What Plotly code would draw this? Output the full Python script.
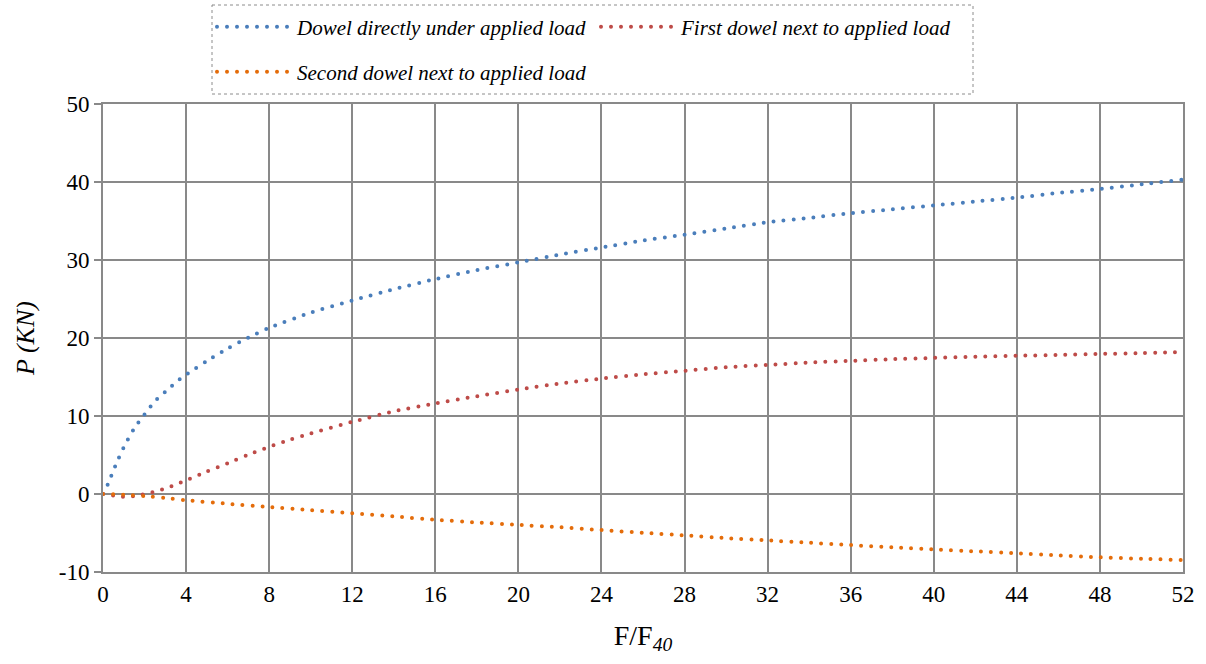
import plotly.graph_objects as go

# ---- data ----
x_blue = [0, 0.25, 0.5, 0.75, 1, 1.5, 2, 2.5, 3, 3.5, 4, 5, 6, 7, 8, 10, 12, 14, 16, 18, 20,
          22, 24, 26, 28, 30, 32, 34, 36, 38, 40, 42, 44, 46, 48, 50, 52]
y_blue = [0, 1.35, 3.0, 4.55, 6.0, 8.4, 10.2, 11.9, 13.1, 14.3, 15.3, 17.05, 18.65, 20.05, 21.3,
          23.25, 24.8, 26.25, 27.55, 28.7, 29.7, 30.7, 31.6, 32.5, 33.25, 34.05, 34.85, 35.4,
          36.0, 36.5, 37.0, 37.5, 38.0, 38.6, 39.1, 39.7, 40.3]

x_red = [0, 0.5, 1, 1.5, 2, 2.5, 3, 3.5, 4, 5, 6, 7, 8, 9, 10, 12, 14, 16, 18, 20, 22, 24, 26,
         28, 30, 32, 34, 36, 38, 40, 42, 44, 46, 48, 50, 52]
y_red = [0, -0.2, -0.35, -0.28, 0.0, 0.3, 0.72, 1.2, 1.75, 2.87, 3.95, 5.05, 6.05, 6.95, 7.77,
         9.25, 10.6, 11.62, 12.53, 13.4, 14.17, 14.8, 15.35, 15.8, 16.25, 16.55, 16.85, 17.07,
         17.28, 17.45, 17.6, 17.72, 17.82, 17.95, 18.07, 18.2]

x_orange = [0, 1, 2, 3, 4, 6, 8, 10, 12, 14, 16, 18, 20, 22, 24, 26, 28, 30, 32, 34, 36, 38,
            40, 42, 44, 46, 48, 50, 52]
y_orange = [0, -0.1, -0.27, -0.52, -0.8, -1.25, -1.66, -2.07, -2.47, -2.88, -3.3, -3.65, -3.96,
            -4.26, -4.63, -4.98, -5.3, -5.65, -5.95, -6.25, -6.55, -6.83, -7.1, -7.35, -7.6,
            -7.86, -8.12, -8.3, -8.47]

series_names = ["Dowel directly under applied load",
                "First dowel next to applied load",
                "Second dowel next to applied load"]
x_ticks = list(range(0, 53, 4))
y_ticks = list(range(-10, 51, 10))

colors = ["#4A7EBB", "#BE4B48", "#E46C0A"]
FONT = "'Liberation Serif', 'Times New Roman', 'DejaVu Serif', serif"
GRID = "#898989"

fig = go.Figure()
for i, (xs, ys, leg) in enumerate([(x_blue, y_blue, "legend"),
                                    (x_red, y_red, "legend2"),
                                    (x_orange, y_orange, "legend3")]):
    fig.add_trace(go.Scatter(
        x=xs, y=ys, mode="lines", name=series_names[i],
        line=dict(color=colors[i], width=4, dash="0px,10px", shape="spline", smoothing=0.6),
        legend=leg, hoverinfo="skip"))

W, H = 1206, 664
ml, mr, mt, mb = 103, 23, 104, 92
pw, ph = W - ml - mr, H - mt - mb

def px2paper(px, py):
    return (px - ml) / pw, (H - mb - py) / ph

def px2cont(px, py):
    return px / W, 1 - py / H

leg_common = dict(font=dict(family=FONT, size=21, color="#000000", style="italic"), itemwidth=75,
                  bgcolor="rgba(0,0,0,0)", borderwidth=0, xanchor="left", yanchor="middle",
                  xref="container", yref="container",
                  orientation="h", itemclick=False, itemdoubleclick=False)
lx1, ly1 = px2cont(212, 27)
lx2, _ = px2cont(596, 27)
_, ly3 = px2cont(212, 72)

box_x0, box_y0 = px2paper(212, 5)
box_x1, box_y1 = px2paper(973, 94)

fig.update_layout(
    width=W, height=H,
    margin=dict(l=ml, r=mr, t=mt, b=mb, pad=0, autoexpand=False),
    paper_bgcolor="white", plot_bgcolor="white",
    font=dict(family=FONT, size=23, color="#000000"),
    showlegend=True,
    legend=dict(x=lx1, y=ly1, **leg_common),
    legend2=dict(x=lx2, y=ly1, **leg_common),
    legend3=dict(x=lx1, y=ly3, **leg_common),
    xaxis=dict(range=[0, 52], tickvals=x_ticks, ticktext=[str(v) for v in x_ticks],
               showgrid=True, gridcolor=GRID, gridwidth=2, zeroline=False,
               showline=True, linecolor=GRID, linewidth=2, mirror=True,
               ticks="", tickfont=dict(family=FONT, size=23),
               title=dict(text="F/F<sub><i>40</i></sub>", font=dict(family=FONT, size=28), standoff=20)),
    yaxis=dict(range=[-10, 50], tickvals=y_ticks, ticktext=[str(v) for v in y_ticks],
               showgrid=True, gridcolor=GRID, gridwidth=2, zeroline=False,
               showline=True, linecolor=GRID, linewidth=2, mirror=True,
               ticks="outside", ticklen=7, tickwidth=2, tickcolor=GRID,
               tickfont=dict(family=FONT, size=23),
               title=dict(text="<i>P (KN)</i>", font=dict(family=FONT, size=26), standoff=17)),
    shapes=[dict(type="rect", xref="paper", yref="paper", x0=box_x0, y0=box_y0, x1=box_x1, y1=box_y1,
                 line=dict(color="#8C8C8C", width=1, dash="dot"), fillcolor="rgba(0,0,0,0)")],
)

post = ("var s=document.createElement('style');"
        "s.textContent='path.js-line{stroke-linecap:round !important;}';"
        "document.head.appendChild(s);")
fig.write_html("out.html", post_script=post)
